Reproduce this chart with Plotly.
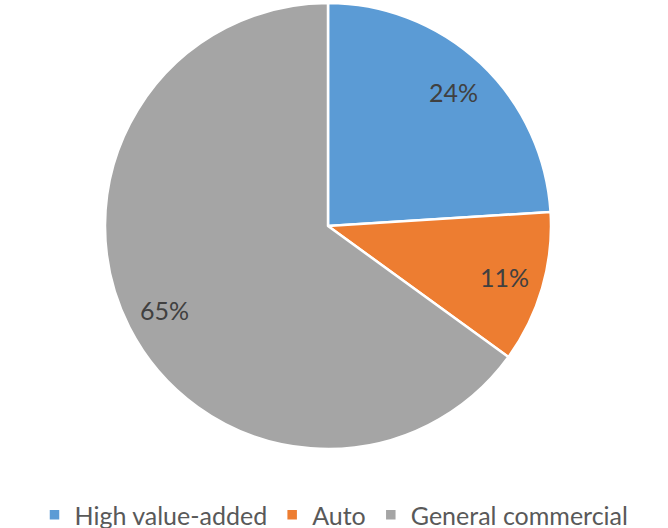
import math
import plotly.graph_objects as go

categories = ["High value-added", "Auto", "General commercial"]
values = [24, 11, 65]
colors = ["#5B9BD5", "#ED7D31", "#A5A5A5"]

W, H = 668, 528
CX, CY, R = 328, 226, 223
LABEL_FRAC = 0.825

fig = go.Figure(go.Pie(
    labels=categories,
    values=values,
    sort=False,
    direction="clockwise",
    rotation=0,
    marker=dict(colors=colors, line=dict(color="white", width=2.5)),
    textinfo="none",
    hoverinfo="label+percent",
    domain=dict(x=[(CX - R) / W, (CX + R) / W], y=[1 - (CY + R) / H, 1 - (CY - R) / H]),
))

total = sum(values)
cum = 0
for v in values:
    a = math.radians(360 * (cum + v / 2) / total)
    px = CX + LABEL_FRAC * R * math.sin(a)
    py = CY - LABEL_FRAC * R * math.cos(a)
    fig.add_annotation(
        x=px / W, y=1 - py / H, xref="paper", yref="paper",
        text=f"{round(100 * v / total)}%", showarrow=False,
        font=dict(family="Lato", size=25, color="#404040"),
        xanchor="center", yanchor="middle",
    )
    cum += v

fig.update_layout(
    width=W, height=H,
    margin=dict(l=0, r=0, t=0, b=0, autoexpand=False),
    paper_bgcolor="white",
    showlegend=True,
    legend=dict(
        orientation="h", x=0.5, xanchor="center",
        y=1 - 515 / H, yanchor="middle",
        font=dict(family="Lato", size=25, color="#595959"),
        itemclick=False,
    ),
)

fig.write_html("out.html", config={"displayModeBar": False},
               post_script="document.body.style.margin='0';")
